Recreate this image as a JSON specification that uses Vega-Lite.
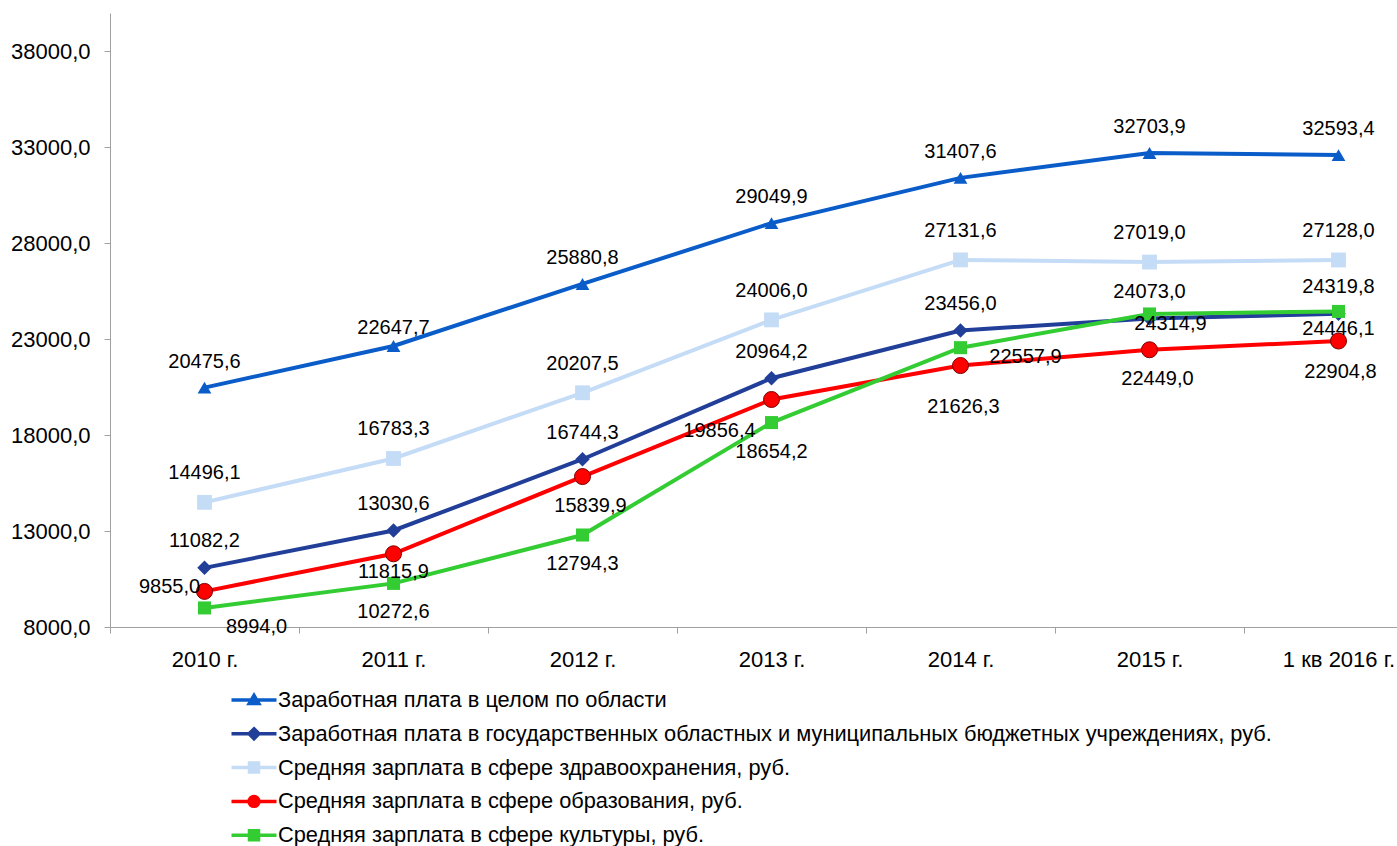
{
  "$schema": "https://vega.github.io/schema/vega-lite/v6.json",
  "autosize": {"type": "none"},
  "width": 1287,
  "height": 614,
  "padding": {"left": 110, "top": 13, "right": 0, "bottom": 219},
  "background": "white",
  "config": {
    "view": {"stroke": null},
    "axis": {"grid": false},
    "locale": {"number": {"decimal": ",", "thousands": " ", "grouping": [3], "currency": ["", ""]}}
  },
  "data": {"values": [
    {"year": "2010 г.", "series": "Заработная плата в целом по области", "value": 20475.6},
    {"year": "2011 г.", "series": "Заработная плата в целом по области", "value": 22647.7},
    {"year": "2012 г.", "series": "Заработная плата в целом по области", "value": 25880.8},
    {"year": "2013 г.", "series": "Заработная плата в целом по области", "value": 29049.9},
    {"year": "2014 г.", "series": "Заработная плата в целом по области", "value": 31407.6},
    {"year": "2015 г.", "series": "Заработная плата в целом по области", "value": 32703.9},
    {"year": "1 кв 2016 г.", "series": "Заработная плата в целом по области", "value": 32593.4},
    {"year": "2010 г.", "series": "Заработная плата в государственных областных и муниципальных бюджетных учреждениях, руб.", "value": 11082.2},
    {"year": "2011 г.", "series": "Заработная плата в государственных областных и муниципальных бюджетных учреждениях, руб.", "value": 13030.6},
    {"year": "2012 г.", "series": "Заработная плата в государственных областных и муниципальных бюджетных учреждениях, руб.", "value": 16744.3},
    {"year": "2013 г.", "series": "Заработная плата в государственных областных и муниципальных бюджетных учреждениях, руб.", "value": 20964.2},
    {"year": "2014 г.", "series": "Заработная плата в государственных областных и муниципальных бюджетных учреждениях, руб.", "value": 23456.0},
    {"year": "2015 г.", "series": "Заработная плата в государственных областных и муниципальных бюджетных учреждениях, руб.", "value": 24073.0},
    {"year": "1 кв 2016 г.", "series": "Заработная плата в государственных областных и муниципальных бюджетных учреждениях, руб.", "value": 24319.8},
    {"year": "2010 г.", "series": "Средняя зарплата в сфере здравоохранения, руб.", "value": 14496.1},
    {"year": "2011 г.", "series": "Средняя зарплата в сфере здравоохранения, руб.", "value": 16783.3},
    {"year": "2012 г.", "series": "Средняя зарплата в сфере здравоохранения, руб.", "value": 20207.5},
    {"year": "2013 г.", "series": "Средняя зарплата в сфере здравоохранения, руб.", "value": 24006.0},
    {"year": "2014 г.", "series": "Средняя зарплата в сфере здравоохранения, руб.", "value": 27131.6},
    {"year": "2015 г.", "series": "Средняя зарплата в сфере здравоохранения, руб.", "value": 27019.0},
    {"year": "1 кв 2016 г.", "series": "Средняя зарплата в сфере здравоохранения, руб.", "value": 27128.0},
    {"year": "2010 г.", "series": "Средняя зарплата в сфере образования, руб.", "value": 9855.0},
    {"year": "2011 г.", "series": "Средняя зарплата в сфере образования, руб.", "value": 11815.9},
    {"year": "2012 г.", "series": "Средняя зарплата в сфере образования, руб.", "value": 15839.9},
    {"year": "2013 г.", "series": "Средняя зарплата в сфере образования, руб.", "value": 19856.4},
    {"year": "2014 г.", "series": "Средняя зарплата в сфере образования, руб.", "value": 21626.3},
    {"year": "2015 г.", "series": "Средняя зарплата в сфере образования, руб.", "value": 22449.0},
    {"year": "1 кв 2016 г.", "series": "Средняя зарплата в сфере образования, руб.", "value": 22904.8},
    {"year": "2010 г.", "series": "Средняя зарплата в сфере культуры, руб.", "value": 8994.0},
    {"year": "2011 г.", "series": "Средняя зарплата в сфере культуры, руб.", "value": 10272.6},
    {"year": "2012 г.", "series": "Средняя зарплата в сфере культуры, руб.", "value": 12794.3},
    {"year": "2013 г.", "series": "Средняя зарплата в сфере культуры, руб.", "value": 18654.2},
    {"year": "2014 г.", "series": "Средняя зарплата в сфере культуры, руб.", "value": 22557.9},
    {"year": "2015 г.", "series": "Средняя зарплата в сфере культуры, руб.", "value": 24314.9},
    {"year": "1 кв 2016 г.", "series": "Средняя зарплата в сфере культуры, руб.", "value": 24446.1}
  ]},
  "encoding": {
    "x": {
      "field": "year", "type": "ordinal", "sort": null, "bandPosition": 0.5,
      "scale": {"type": "band", "domain": ["2010 г.", "2011 г.", "2012 г.", "2013 г.", "2014 г.", "2015 г.", "1 кв 2016 г."], "range": [0, 1323], "paddingInner": 0, "paddingOuter": 0},
      "axis": {"title": null, "tickBand": "extent", "labelAngle": 0, "domainColor": "#A0A0A0", "tickColor": "#A0A0A0", "tickSize": 6, "labelFontSize": 22, "labelFont": "Liberation Sans", "labelColor": "#000000", "labelPadding": 16}
    },
    "y": {
      "field": "value", "type": "quantitative",
      "scale": {"domain": [8000, 40000], "nice": false, "zero": false},
      "axis": {"title": null, "values": [8000, 13000, 18000, 23000, 28000, 33000, 38000], "format": ".1f", "domainColor": "#A0A0A0", "tickColor": "#A0A0A0", "tickSize": 6, "labelFontSize": 22, "labelFont": "Liberation Sans", "labelColor": "#000000", "labelPadding": 14}
    }
  },
  "layer": [
    {
      "mark": {"type": "line", "strokeWidth": 4},
      "encoding": {
        "color": {
          "field": "series", "type": "nominal",
          "scale": {
            "domain": ["Заработная плата в целом по области", "Заработная плата в государственных областных и муниципальных бюджетных учреждениях, руб.", "Средняя зарплата в сфере здравоохранения, руб.", "Средняя зарплата в сфере образования, руб.", "Средняя зарплата в сфере культуры, руб."],
            "range": ["#0A5CC9", "#213F99", "#C5DCF7", "#FF0000", "#33CC33"]
          },
          "legend": {
            "title": null, "orient": "none", "legendX": 127, "legendY": 670, "direction": "vertical",
            "symbolSize": 900, "symbolStrokeWidth": 3.5, "rowPadding": 4.8, "labelOffset": 7,
            "labelFontSize": 21.8, "labelFont": "Liberation Sans", "labelColor": "#000000", "labelLimit": 1300,
            "encode": {
              "symbols": {
                "update": {
                  "shape": {"signal": "['M-1.5,0H1.5M0,-0.3L0.315,0.225L-0.315,0.225Z','M-1.5,0H1.5M0,-0.33L0.33,0L0,0.33L-0.33,0Z','M-1.5,0H1.5M-0.3,-0.3H0.3V0.3H-0.3Z','M-1.5,0H1.5M0.33,0A0.33,0.33,0,1,1,-0.33,0A0.33,0.33,0,1,1,0.33,0Z','M-1.5,0H1.5M-0.3,-0.3H0.3V0.3H-0.3Z'][datum.index]"},
                  "fill": {"signal": "scale('color', datum.value)"},
                  "stroke": {"signal": "scale('color', datum.value)"},
                  "strokeWidth": {"value": 3.5},
                  "opacity": {"value": 1}
                }
              }
            }
          }
        }
      }
    },
    {
      "transform": [{"filter": "datum.series === 'Заработная плата в целом по области'"}],
      "mark": {"type": "point", "shape": "triangle-up", "size": 190, "filled": true, "fill": "#0A5CC9", "opacity": 1, "strokeWidth": 0},
      "encoding": {}
    },
    {
      "transform": [{"filter": "indexof(datum.series, 'государственных') >= 0"}],
      "mark": {"type": "point", "shape": "diamond", "size": 210, "filled": true, "fill": "#213F99", "opacity": 1, "strokeWidth": 0},
      "encoding": {}
    },
    {
      "transform": [{"filter": "indexof(datum.series, 'здравоохранения') >= 0"}],
      "mark": {"type": "point", "shape": "square", "size": 220, "filled": true, "fill": "#C5DCF7", "opacity": 1, "strokeWidth": 0},
      "encoding": {}
    },
    {
      "transform": [{"filter": "indexof(datum.series, 'образования') >= 0"}],
      "mark": {"type": "point", "shape": "circle", "size": 256, "filled": true, "fill": "#FF0000", "stroke": "#7A0000", "strokeWidth": 1, "opacity": 1},
      "encoding": {}
    },
    {
      "transform": [{"filter": "indexof(datum.series, 'культуры') >= 0"}],
      "mark": {"type": "point", "shape": "square", "size": 170, "filled": true, "fill": "#33CC33", "opacity": 1, "strokeWidth": 0},
      "encoding": {}
    },
    {
      "transform": [{"filter": "datum.series === 'Заработная плата в целом по области' && datum.year !== '2011 г.'"}],
      "mark": {"type": "text", "dy": -26, "fontSize": 20, "font": "Liberation Sans", "color": "#000000"},
      "encoding": {"text": {"field": "value", "type": "quantitative", "format": ".1f"}}
    },
    {
      "transform": [{"filter": "datum.series === 'Заработная плата в целом по области' && datum.year === '2011 г.'"}],
      "mark": {"type": "text", "dy": -18, "fontSize": 20, "font": "Liberation Sans", "color": "#000000"},
      "encoding": {"text": {"field": "value", "type": "quantitative", "format": ".1f"}}
    },
    {
      "transform": [{"filter": "indexof(datum.series, 'государственных') >= 0"}],
      "mark": {"type": "text", "dy": -26.5, "fontSize": 20, "font": "Liberation Sans", "color": "#000000"},
      "encoding": {"text": {"field": "value", "type": "quantitative", "format": ".1f"}}
    },
    {
      "transform": [{"filter": "indexof(datum.series, 'здравоохранения') >= 0"}],
      "mark": {"type": "text", "dy": -29, "fontSize": 20, "font": "Liberation Sans", "color": "#000000"},
      "encoding": {"text": {"field": "value", "type": "quantitative", "format": ".1f"}}
    },
    {
      "transform": [{"filter": "indexof(datum.series, 'образования') >= 0 && datum.year === '2010 г.'"}],
      "mark": {"type": "text", "dx": -35, "dy": -4, "fontSize": 20, "font": "Liberation Sans", "color": "#000000"},
      "encoding": {"text": {"field": "value", "type": "quantitative", "format": ".1f"}}
    },
    {
      "transform": [{"filter": "indexof(datum.series, 'образования') >= 0 && datum.year === '2011 г.'"}],
      "mark": {"type": "text", "dy": 18, "fontSize": 20, "font": "Liberation Sans", "color": "#000000"},
      "encoding": {"text": {"field": "value", "type": "quantitative", "format": ".1f"}}
    },
    {
      "transform": [{"filter": "indexof(datum.series, 'образования') >= 0 && (datum.year === '2012 г.' || datum.year === '2015 г.')"}],
      "mark": {"type": "text", "dx": 8, "dy": 29, "fontSize": 20, "font": "Liberation Sans", "color": "#000000"},
      "encoding": {"text": {"field": "value", "type": "quantitative", "format": ".1f"}}
    },
    {
      "transform": [{"filter": "indexof(datum.series, 'образования') >= 0 && datum.year === '2013 г.'"}],
      "mark": {"type": "text", "dx": -52, "dy": 31, "fontSize": 20, "font": "Liberation Sans", "color": "#000000"},
      "encoding": {"text": {"field": "value", "type": "quantitative", "format": ".1f"}}
    },
    {
      "transform": [{"filter": "indexof(datum.series, 'образования') >= 0 && datum.year === '2014 г.'"}],
      "mark": {"type": "text", "dx": 3, "dy": 41, "fontSize": 20, "font": "Liberation Sans", "color": "#000000"},
      "encoding": {"text": {"field": "value", "type": "quantitative", "format": ".1f"}}
    },
    {
      "transform": [{"filter": "indexof(datum.series, 'образования') >= 0 && datum.year === '1 кв 2016 г.'"}],
      "mark": {"type": "text", "dx": 2, "dy": 31, "fontSize": 20, "font": "Liberation Sans", "color": "#000000"},
      "encoding": {"text": {"field": "value", "type": "quantitative", "format": ".1f"}}
    },
    {
      "transform": [{"filter": "indexof(datum.series, 'культуры') >= 0 && datum.year === '2010 г.'"}],
      "mark": {"type": "text", "dx": 52, "dy": 19, "fontSize": 20, "font": "Liberation Sans", "color": "#000000"},
      "encoding": {"text": {"field": "value", "type": "quantitative", "format": ".1f"}}
    },
    {
      "transform": [{"filter": "indexof(datum.series, 'культуры') >= 0 && (datum.year === '2011 г.' || datum.year === '2012 г.' || datum.year === '2013 г.')"}],
      "mark": {"type": "text", "dy": 29, "fontSize": 20, "font": "Liberation Sans", "color": "#000000"},
      "encoding": {"text": {"field": "value", "type": "quantitative", "format": ".1f"}}
    },
    {
      "transform": [{"filter": "indexof(datum.series, 'культуры') >= 0 && datum.year === '2014 г.'"}],
      "mark": {"type": "text", "dx": 65, "dy": 9, "fontSize": 20, "font": "Liberation Sans", "color": "#000000"},
      "encoding": {"text": {"field": "value", "type": "quantitative", "format": ".1f"}}
    },
    {
      "transform": [{"filter": "indexof(datum.series, 'культуры') >= 0 && datum.year === '2015 г.'"}],
      "mark": {"type": "text", "dx": 21, "dy": 10, "fontSize": 20, "font": "Liberation Sans", "color": "#000000"},
      "encoding": {"text": {"field": "value", "type": "quantitative", "format": ".1f"}}
    },
    {
      "transform": [{"filter": "indexof(datum.series, 'культуры') >= 0 && datum.year === '1 кв 2016 г.'"}],
      "mark": {"type": "text", "dy": 18, "fontSize": 20, "font": "Liberation Sans", "color": "#000000"},
      "encoding": {"text": {"field": "value", "type": "quantitative", "format": ".1f"}}
    }
  ]
}
